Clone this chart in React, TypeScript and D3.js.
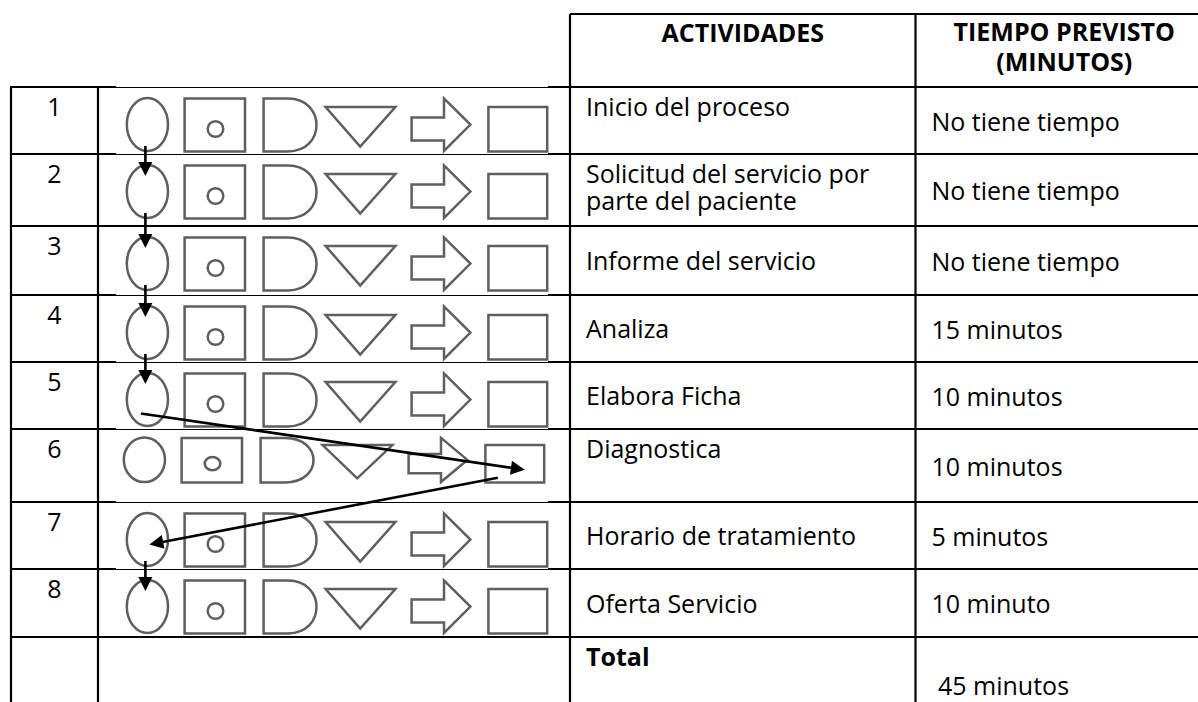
import { useRef, useEffect } from 'react';
import * as d3 from 'd3';

// ---- data ----
const stepNumbers = ['1', '2', '3', '4', '5', '6', '7', '8', ''];
const activities = [
  ['Inicio del proceso'],
  ['Solicitud del servicio por', 'parte del paciente'],
  ['Informe del servicio'],
  ['Analiza'],
  ['Elabora Ficha'],
  ['Diagnostica'],
  ['Horario de tratamiento'],
  ['Oferta Servicio'],
  ['Total'],
];
const tiempos = [
  'No tiene tiempo',
  'No tiene tiempo',
  'No tiene tiempo',
  '15 minutos',
  '10 minutos',
  '10 minutos',
  '5 minutos',
  '10 minuto',
  ' 45 minutos',
];
const headerActividades = ['ACTIVIDADES'];
const headerTiempo = ['TIEMPO PREVISTO', '(MINUTOS)'];
// symbol marked at each step: 0 = operación (óvalo), 5 = rectángulo
const flowSymbol = [0, 0, 0, 0, 0, 5, 0, 0];

// ---- layout ----
const W = 1198;
const H = 702;
const colX = [11, 98, 570, 915.5, 1213];
const headTop = 14;
const rowEdges = [87, 154, 226, 295, 362, 429, 502, 569, 637, 720];
// row edges covered by the pasted symbol strips (thin line there)
const thinEdges = [0, 1, 3, 4, 5, 6, 7];
const stripSpan = [116, 548];
const actAlign = ['top', 'lines', 'mid', 'mid', 'mid', 'top', 'mid', 'mid', 'top'];

const FONT = "'Open Sans', sans-serif";
const FS = 25;
const symStroke = '#5e5e5e';

// strip placement per row (x, y offset, vertical scale)
const stripFrame = (i: number) =>
  i === 5
    ? { x: 123, y: rowEdges[i] + 7.7, sy: 0.84 }
    : { x: 126, y: rowEdges[i] + 10, sy: 1 };

const drawStrip = (g: any, f: { x: number; y: number; sy: number }) => {
  const s = g
    .append('g')
    .attr('transform', `translate(${f.x},${f.y}) scale(1,${f.sy})`)
    .attr('fill', 'none')
    .attr('stroke', symStroke)
    .attr('stroke-width', 2.5)
    .attr('filter', 'url(#soft)');
  const ns = (sel: any) => sel.attr('vector-effect', 'non-scaling-stroke');

  ns(s.append('ellipse').attr('cx', 21.4).attr('cy', 27.5).attr('rx', 20.6).attr('ry', 26.5));
  ns(s.append('rect').attr('x', 58.6).attr('y', 1.6).attr('width', 60.4).attr('height', 52.8));
  ns(s.append('circle').attr('cx', 89.5).attr('cy', 32).attr('r', 7.8));

  const dPath = d3.path();
  dPath.moveTo(137.6, 1.6);
  dPath.lineTo(162, 1.6);
  dPath.bezierCurveTo(200, 1.6, 200, 54.4, 162, 54.4);
  dPath.lineTo(137.6, 54.4);
  dPath.closePath();
  ns(s.append('path').attr('d', dPath.toString()));

  const tri = d3.path();
  tri.moveTo(199.6, 10);
  tri.lineTo(269.4, 10);
  tri.lineTo(234.2, 49.6);
  tri.closePath();
  ns(s.append('path').attr('d', tri.toString()));

  const arr = d3.path();
  arr.moveTo(285.6, 20.6);
  arr.lineTo(318, 20.6);
  arr.lineTo(318, 1.4);
  arr.lineTo(344.4, 27.6);
  arr.lineTo(318, 54);
  arr.lineTo(318, 43.4);
  arr.lineTo(285.6, 43.4);
  arr.closePath();
  ns(s.append('path').attr('d', arr.toString()).attr('stroke-linejoin', 'miter'));

  ns(s.append('rect').attr('x', 362.4).attr('y', 10).attr('width', 58.8).attr('height', 44.4));
};

const symGeom = (row: number, sym: number) => {
  const f = stripFrame(row);
  if (sym === 5) {
    return { cx: f.x + 391.8, cy: f.y + 32.2 * f.sy, top: f.y + 10 * f.sy, bottom: f.y + 54.4 * f.sy };
  }
  return { cx: f.x + 21.4, cy: f.y + 27.5 * f.sy, top: f.y + 1 * f.sy, bottom: f.y + 54 * f.sy };
};
const anchorOut: Record<number, [number, number]> = { 0: [-6.5, 14], 5: [-17, 14] };
const anchorIn: Record<number, [number, number]> = { 0: [2, 5], 5: [10, 6] };

const drawConnector = (g: any, s: [number, number], t: [number, number]) => {
  const dx = t[0] - s[0];
  const dy = t[1] - s[1];
  const len = Math.hypot(dx, dy);
  const ux = dx / len;
  const uy = dy / len;
  const head = 14;
  const half = 7;
  const bx = t[0] - ux * head;
  const by = t[1] - uy * head;
  g.append('line')
    .attr('x1', s[0]).attr('y1', s[1])
    .attr('x2', bx + ux * 2).attr('y2', by + uy * 2)
    .attr('stroke', '#000')
    .attr('stroke-width', 2.6);
  const p = d3.path();
  p.moveTo(t[0], t[1]);
  p.lineTo(bx - uy * half, by + ux * half);
  p.lineTo(bx + uy * half, by - ux * half);
  p.closePath();
  g.append('path').attr('d', p.toString()).attr('fill', '#000');
};

const App = () => {
  const ref = useRef<SVGSVGElement>(null);

  useEffect(() => {
    const svg = d3.select(ref.current);
    svg.selectAll('*').remove();

    svg.append('defs')
      .append('filter').attr('id', 'soft')
      .append('feGaussianBlur').attr('stdDeviation', 0.4);

    svg.append('rect').attr('width', W).attr('height', H).attr('fill', '#fff');

    const lines = svg.append('g').attr('stroke', '#000').attr('stroke-width', 2.2);
    // header box
    lines.append('line').attr('x1', colX[2]).attr('x2', W + 10).attr('y1', headTop).attr('y2', headTop);
    [2, 3].forEach((c) =>
      lines.append('line').attr('x1', colX[c]).attr('x2', colX[c]).attr('y1', headTop).attr('y2', H + 5)
    );
    [0, 1].forEach((c) =>
      lines.append('line').attr('x1', colX[c]).attr('x2', colX[c]).attr('y1', rowEdges[0]).attr('y2', H + 5)
    );
    rowEdges.forEach((y, i) => {
      if (y > H) return;
      if (thinEdges.includes(i)) {
        lines.append('line').attr('x1', colX[0] - 1).attr('x2', stripSpan[0]).attr('y1', y).attr('y2', y);
        lines.append('line').attr('x1', stripSpan[1]).attr('x2', W + 10).attr('y1', y).attr('y2', y);
        lines.append('line')
          .attr('x1', stripSpan[0]).attr('x2', stripSpan[1]).attr('y1', y + 0.5).attr('y2', y + 0.5)
          .attr('stroke-width', 1)
          .attr('shape-rendering', 'crispEdges');
      } else {
        lines.append('line').attr('x1', colX[0] - 1).attr('x2', W + 10).attr('y1', y).attr('y2', y);
      }
    });

    // symbol strips
    const strips = svg.append('g');
    flowSymbol.forEach((_, i) => drawStrip(strips, stripFrame(i)));

    // flow connectors
    const conn = svg.append('g');
    flowSymbol.slice(0, -1).forEach((a, i) => {
      const b = flowSymbol[i + 1];
      const src = symGeom(i, a);
      const dst = symGeom(i + 1, b);
      if (a === b) {
        const x = src.cx - 2;
        drawConnector(conn, [x, src.bottom - 5], [x, dst.top + 11]);
      } else {
        drawConnector(
          conn,
          [src.cx + anchorOut[a][0], src.cy + anchorOut[a][1]],
          [dst.cx + anchorIn[b][0], dst.cy + anchorIn[b][1]]
        );
      }
    });

    // texts
    const txt = svg.append('g').attr('font-family', FONT).attr('font-size', FS).attr('fill', '#000');
    const midX = (c: number) => (colX[c] + colX[c + 1]) / 2;

    txt.append('text').attr('x', midX(2)).attr('y', 42).attr('text-anchor', 'middle')
      .attr('font-weight', 700).text(headerActividades[0]);
    headerTiempo.forEach((t, k) =>
      txt.append('text').attr('x', midX(3)).attr('y', 41 + k * 30).attr('text-anchor', 'middle')
        .attr('font-weight', 700).text(t)
    );

    stepNumbers.forEach((n, i) => {
      txt.append('text').attr('x', midX(0)).attr('y', rowEdges[i] + 29).attr('text-anchor', 'middle').text(n);
    });

    activities.forEach((lns, i) => {
      const top = rowEdges[i];
      const bot = rowEdges[i + 1];
      const a = actAlign[i];
      const base = a === 'mid' ? (top + bot) / 2 + 9.5 : top + 28.5;
      lns.forEach((l, k) =>
        txt.append('text')
          .attr('x', colX[2] + 16)
          .attr('y', base + k * 27)
          .attr('font-weight', i === activities.length - 1 ? 700 : 400)
          .text(l)
      );
    });

    tiempos.forEach((t, i) => {
      const top = rowEdges[i];
      const bot = rowEdges[i + 1];
      const base = i === tiempos.length - 1 ? top + 58 : (top + bot) / 2 + 10;
      txt.append('text')
        .attr('x', colX[3] + 16)
        .attr('y', base)
        .style('white-space', 'pre')
        .text(t);
    });
  }, []);

  return (
    <svg
      ref={ref}
      width={W}
      height={H}
      style={{ position: 'absolute', left: 0, top: 0, display: 'block' }}
    />
  );
};

export default App;
